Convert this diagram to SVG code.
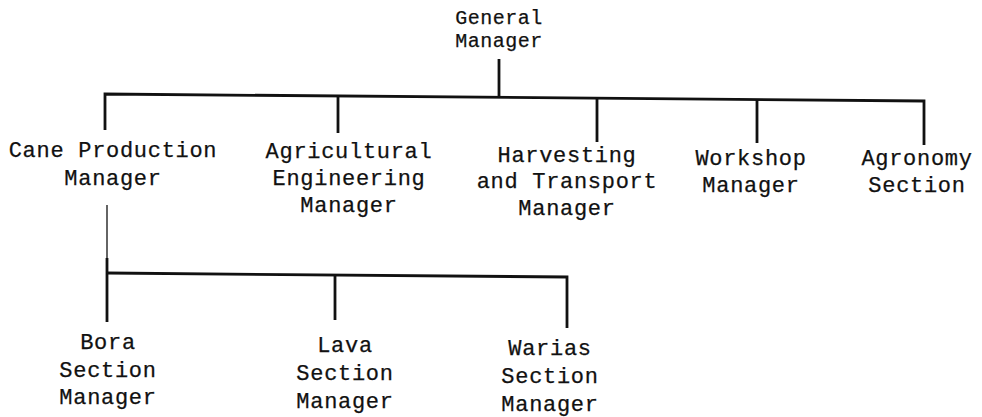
<svg xmlns="http://www.w3.org/2000/svg" width="982" height="417" viewBox="0 0 982 417">
  <style>
    text { font-family: "Liberation Mono", "DejaVu Sans Mono", monospace; font-size: 22px; letter-spacing: 0.7px; fill: #111; stroke: #111; stroke-width: 0.25; text-anchor: middle; }
    .small text { font-size: 20px; letter-spacing: 0.5px; }
    .link { stroke: #111; stroke-width: 2.8; fill: none; stroke-linecap: butt; }
    .thin { stroke: #111; stroke-width: 1.3; fill: none; }
  </style>
  <rect width="982" height="417" fill="#fff"/>

  <!-- connectors -->
  <g id="connectors">
    <path class="link" d="M499,59 V97"/>
    <path class="link" d="M105,130 V94 L924,101 V145"/>
    <path class="link" d="M338,96 V133"/>
    <path class="link" d="M597,98 V142"/>
    <path class="link" d="M757,100 V143"/>
    <path class="thin" d="M107,205 V258"/>
    <path class="link" d="M107,258 V322"/>
    <path class="link" d="M107,273 L567,277 V328"/>
    <path class="link" d="M335,275.5 V320"/>
  </g>

  <g id="general-manager" class="small">
    <text x="499" y="24">General</text>
    <text x="499" y="47">Manager</text>
  </g>

  <g id="cane-production-manager">
    <text x="113" y="157">Cane Production</text>
    <text x="113" y="185">Manager</text>
  </g>

  <g id="agricultural-engineering-manager">
    <text x="349" y="158">Agricultural</text>
    <text x="349" y="185">Engineering</text>
    <text x="349" y="212">Manager</text>
  </g>

  <g id="harvesting-transport-manager">
    <text x="567" y="162">Harvesting</text>
    <text x="567" y="188">and Transport</text>
    <text x="567" y="215">Manager</text>
  </g>

  <g id="workshop-manager">
    <text x="751" y="165">Workshop</text>
    <text x="751" y="192">Manager</text>
  </g>

  <g id="agronomy-section">
    <text x="917" y="165">Agronomy</text>
    <text x="917" y="192">Section</text>
  </g>

  <g id="bora-section-manager">
    <text x="108" y="349">Bora</text>
    <text x="108" y="377">Section</text>
    <text x="108" y="404">Manager</text>
  </g>

  <g id="lava-section-manager">
    <text x="345" y="352">Lava</text>
    <text x="345" y="380">Section</text>
    <text x="345" y="408">Manager</text>
  </g>

  <g id="warias-section-manager">
    <text x="550" y="355">Warias</text>
    <text x="550" y="383">Section</text>
    <text x="550" y="411">Manager</text>
  </g>
</svg>
